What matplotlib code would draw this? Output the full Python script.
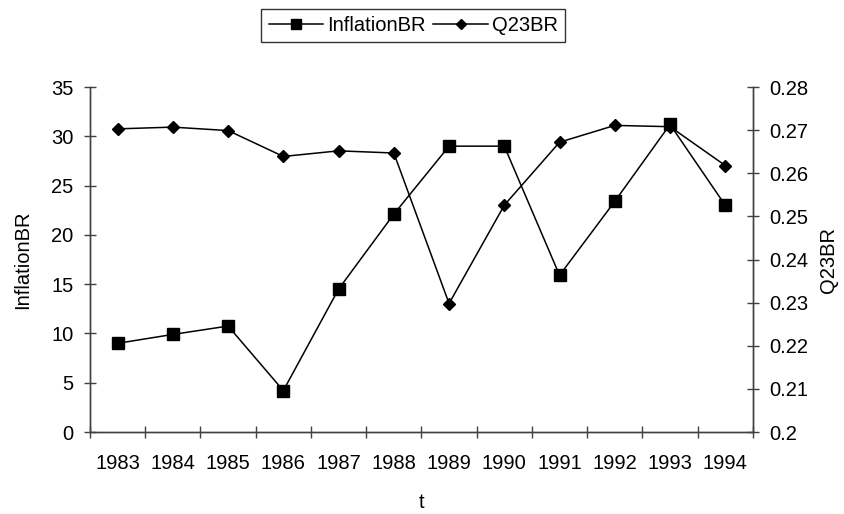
import matplotlib
matplotlib.use("Agg")
import matplotlib.pyplot as plt
import numpy as np

plt.rcParams['font.family'] = ['Liberation Sans', 'DejaVu Sans']

years = ['1983', '1984', '1985', '1986', '1987', '1988',
         '1989', '1990', '1991', '1992', '1993', '1994']
inflation_br = [9.0, 9.9, 10.75, 4.2, 14.5, 22.1, 29.0, 29.0, 15.9, 23.4, 31.2, 23.0]
q23_br = [0.2703, 0.2707, 0.2699, 0.2639, 0.2652, 0.2647,
          0.2298, 0.2526, 0.2672, 0.2711, 0.2708, 0.2618]

fs = 14.5
axis_col = '#404040'

fig = plt.figure(figsize=(8.45, 5.14), dpi=100)
ax = fig.add_axes([0.1065, 0.1595, 0.7845, 0.6712])
ax2 = ax.twinx()

x = np.arange(len(years))
l1, = ax.plot(x, inflation_br, color='black', lw=1.1, marker='s', ms=8,
              label='InflationBR')
l2, = ax2.plot(x, q23_br, color='black', lw=1.1, marker='D', ms=6,
               label='Q23BR')

ax.set_xlim(-0.5, len(years) - 0.5)
ax.set_ylim(0, 35)
ax.set_yticks(np.arange(0, 36, 5))
ax2.set_ylim(0.2, 0.28)
ax2.set_yticks(np.arange(0.2, 0.2801, 0.01))
ax2.set_yticklabels(['0.2', '0.21', '0.22', '0.23', '0.24', '0.25',
                     '0.26', '0.27', '0.28'])

# category boundaries carry the tick marks, labels sit in between
ax.set_xticks(np.arange(-0.5, len(years), 1.0))
ax.set_xticklabels([])
ax.set_xticks(x, minor=True)
ax.set_xticklabels(years, minor=True)
ax.tick_params(axis='x', which='minor', length=0, pad=16, labelsize=fs)
ax.tick_params(axis='x', which='major', direction='inout', length=9,
               width=1, color=axis_col)
ax.tick_params(axis='y', direction='inout', length=9, width=1,
               color=axis_col, labelsize=fs, pad=7.5)
ax2.tick_params(axis='y', direction='inout', length=9, width=1,
                color=axis_col, labelsize=fs, pad=7.5)

for a in (ax, ax2):
    a.spines['top'].set_visible(False)
    for s in ('left', 'right', 'bottom'):
        a.spines[s].set_color(axis_col)
        a.spines[s].set_linewidth(1)

ax.set_xlabel('t', fontsize=fs, labelpad=14.5)
ax.set_ylabel('InflationBR', fontsize=fs, labelpad=13.5)
ax2.set_ylabel('Q23BR', fontsize=fs, labelpad=7.5)

leg = fig.legend([l1, l2], ['InflationBR', 'Q23BR'], loc='center',
                 bbox_to_anchor=(0.489, 0.951), ncol=2, fontsize=fs,
                 frameon=True, fancybox=False, edgecolor='black',
                 handlelength=2.7, handletextpad=0.2, columnspacing=0.4,
                 borderpad=0.35, markerscale=0.9)
leg.get_frame().set_linewidth(1)

fig.savefig('out.png', dpi=100)
